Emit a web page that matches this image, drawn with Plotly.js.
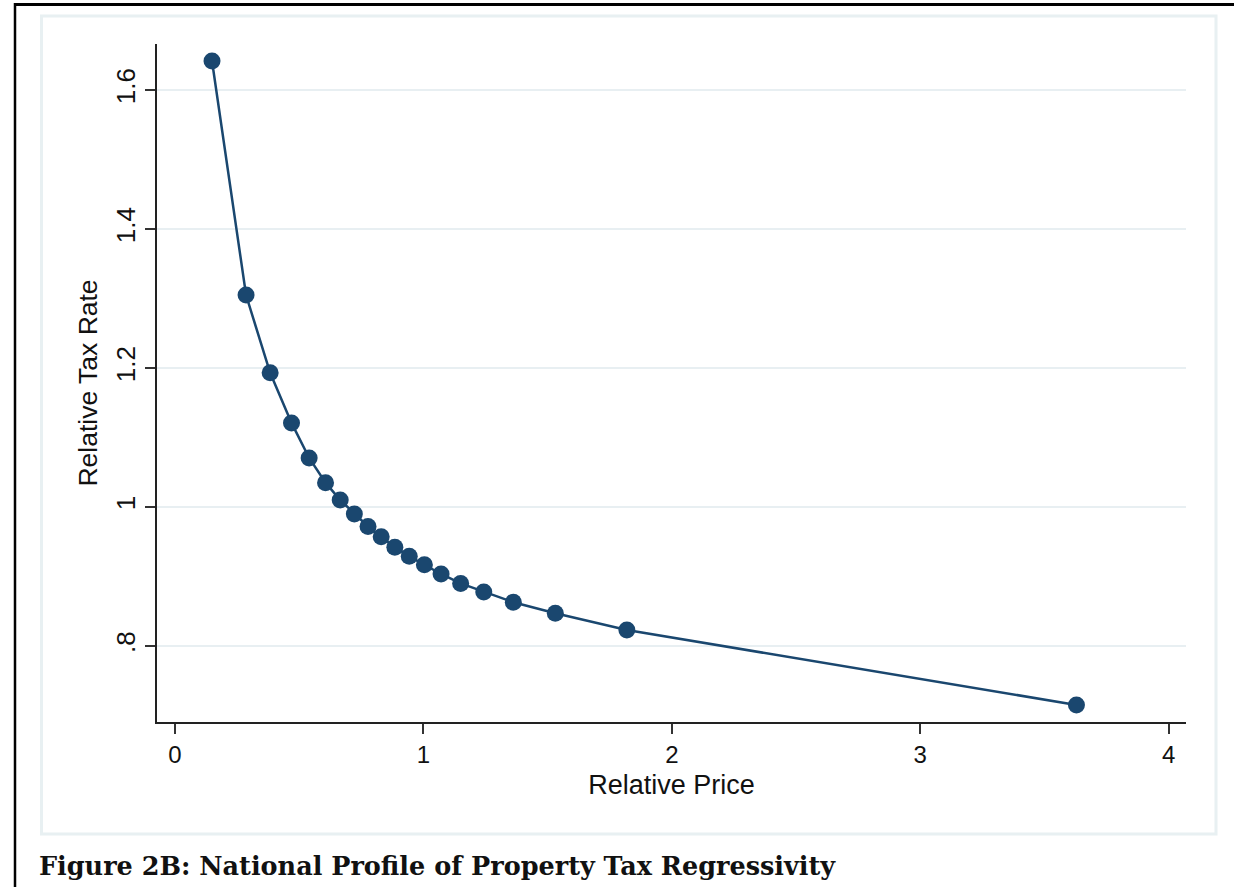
<!DOCTYPE html>
<html>
<head>
<meta charset="utf-8">
<script src="https://cdn.plot.ly/plotly-3.0.1.min.js"></script>
<style>
  html, body { margin: 0; padding: 0; background: #ffffff; }
  #chart { width: 1234px; height: 887px; }
</style>
</head>
<body>
<div id="chart"></div>
<script>
// Relative price (x) and relative tax rate (y)
const relativePrice = [0.149, 0.286, 0.383, 0.469, 0.540, 0.606, 0.665, 0.722, 0.777, 0.830, 0.885, 0.943, 1.004, 1.071, 1.150, 1.243, 1.362, 1.531, 1.819, 3.629];
const relativeTaxRate = [1.6417, 1.305, 1.193, 1.121, 1.0705, 1.035, 1.010, 0.990, 0.972, 0.957, 0.942, 0.929, 0.917, 0.9036, 0.890, 0.8777, 0.863, 0.847, 0.823, 0.7151];
const xTickVals = [0, 1, 2, 3, 4];
const xTickText = ["0", "1", "2", "3", "4"];
const yTickVals = [0.8, 1.0, 1.2, 1.4, 1.6];
const yTickText = [".8", "1", "1.2", "1.4", "1.6"];
const xTitle = "Relative Price";
const yTitle = "Relative Tax Rate";
const caption = "Figure 2B: National Profile of Property Tax Regressivity";

const navy = "#1a476f";
const W = 1234, H = 887;
const L = 157, R = 1186, T = 44, B = 722;
const pw = R - L, ph = B - T;
function px(x) { return (x - L) / pw; }
function py(y) { return (B - y) / ph; }

const trace = {
  x: relativePrice,
  y: relativeTaxRate,
  type: "scatter",
  mode: "lines+markers",
  line: { color: navy, width: 2.5 },
  marker: { color: navy, size: 17 },
  cliponaxis: false,
  showlegend: false,
  hoverinfo: "x+y"
};

const layout = {
  width: W, height: H,
  paper_bgcolor: "rgba(0,0,0,0)",
  plot_bgcolor: "rgba(0,0,0,0)",
  margin: { l: L, r: W - R, t: T, b: H - B, pad: 0 },
  font: { family: "Liberation Sans, Arial, sans-serif", color: "#111111" },
  xaxis: {
    range: [-0.0725, 4.07],
    tickvals: xTickVals, ticktext: xTickText,
    ticks: "outside", ticklen: 10, tickwidth: 2, tickcolor: "#333333",
    showline: true, linecolor: "#222222", linewidth: 2,
    showgrid: false, zeroline: false,
    tickfont: { size: 24, color: "#111111" },
    title: { text: xTitle, font: { size: 27, color: "#111111" }, standoff: 8 }
  },
  yaxis: {
    range: [0.6906, 1.6662],
    tickvals: yTickVals, ticktext: yTickText,
    ticks: "outside", ticklen: 10, tickwidth: 2, tickcolor: "#333333",
    tickangle: -90,
    showline: true, linecolor: "#222222", linewidth: 2,
    showgrid: true, gridcolor: "#e8eff2", gridwidth: 2,
    zeroline: false,
    tickfont: { size: 26, color: "#111111" },
    title: { text: yTitle, font: { size: 26.5, color: "#111111" }, standoff: 5 }
  },
  shapes: [
    // light outer frame
    { type: "rect", xref: "paper", yref: "paper", layer: "below",
      x0: px(41.5), x1: px(1216), y0: py(834), y1: py(16),
      line: { color: "#e8f0f2", width: 3 }, fillcolor: "rgba(0,0,0,0)" },
    // black page border: top and left
    { type: "line", xref: "paper", yref: "paper",
      x0: px(14), x1: px(1240), y0: py(4.5), y1: py(4.5),
      line: { color: "#000000", width: 3 } },
    { type: "line", xref: "paper", yref: "paper",
      x0: px(15), x1: px(15), y0: py(3), y1: py(895),
      line: { color: "#000000", width: 2.5 } }
  ],
  annotations: [
    { text: "<b>" + caption + "</b>", xref: "paper", yref: "paper",
      x: px(37), y: py(866), xanchor: "left", yanchor: "middle",
      showarrow: false,
      font: { family: "DejaVu Serif, serif", size: 25.5, color: "#111111" } }
  ]
};

Plotly.newPlot("chart", [trace], layout, { displayModeBar: false, staticPlot: true });
</script>
</body>
</html>
